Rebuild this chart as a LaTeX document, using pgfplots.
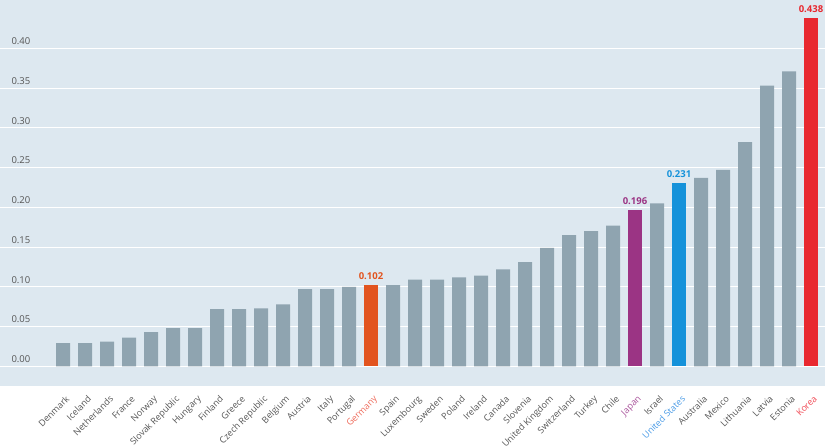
\documentclass[border=0pt]{standalone}
\usepackage{pgfplots}
\pgfplotsset{compat=1.18}
\usepackage{fontspec}
\setmainfont{Open Sans}
\definecolor{bg}{HTML}{DDE8F0}
\definecolor{bargray}{HTML}{8FA4B0}
\definecolor{ger}{HTML}{E2541F}
\definecolor{jpn}{HTML}{9B3484}
\definecolor{usa}{HTML}{1592DA}
\definecolor{kor}{HTML}{E8282F}
\definecolor{labgray}{HTML}{555555}
\definecolor{gerlab}{HTML}{EE6A5A}
\definecolor{jpnlab}{HTML}{A8529A}
\definecolor{usalab}{HTML}{4A9BE6}
\definecolor{korlab}{HTML}{F04A55}
\begin{document}
\begin{tikzpicture}
\begin{axis}[
  scale only axis, width=825bp, height=386bp,
  xmin=-2.864, xmax=34.636, ymin=-0.0248, ymax=0.4608,
  axis line style={draw=none}, tick style={draw=none},
  axis background/.style={fill=bg},
  ymajorgrids, grid style={white, line width=1bp},
  ytick={0,0.05,0.10,0.15,0.20,0.25,0.30,0.35,0.40},
  /pgf/number format/assume math mode=true,
  yticklabel style={anchor=south west, xshift=8bp, yshift=0bp, font=\fontsize{9.5bp}{11bp}\selectfont, text=labgray,
    /pgf/number format/.cd, fixed, fixed zerofill, precision=2},
  xtick={0,...,34},
  xticklabels={Denmark,Iceland,Netherlands,France,Norway,Slovak Republic,Hungary,Finland,Greece,Czech Republic,Belgium,Austria,Italy,Portugal,\textcolor{gerlab}{Germany},Spain,Luxembourg,Sweden,Poland,Ireland,Canada,Slovenia,United Kingdom,Switzerland,Turkey,Chile,\textcolor{jpnlab}{Japan},Israel,\textcolor{usalab}{United States},Australia,Mexico,Lithuania,Latvia,Estonia,\textcolor{korlab}{Korea}},
  xticklabel style={xshift=2bp, yshift=-3bp, rotate=45, anchor=north east, inner sep=1bp, font=\fontsize{9bp}{10.5bp}\selectfont, text=labgray},
  ybar, bar width=0.636, bar shift=0pt,
  every node near coord/.append style={font=\bfseries\fontsize{9.5bp}{11bp}\selectfont, yshift=2bp},
]
\addplot[fill=bargray, draw=none] coordinates {
(0,0.029) (1,0.029) (2,0.031) (3,0.036) (4,0.043) (5,0.048) (6,0.048)
(7,0.072) (8,0.072) (9,0.073) (10,0.078) (11,0.097) (12,0.097) (13,0.100)
(15,0.102) (16,0.109) (17,0.109) (18,0.112) (19,0.114) (20,0.122) (21,0.131)
(22,0.149) (23,0.165) (24,0.170) (25,0.177) (27,0.205) (29,0.237) (30,0.247)
(31,0.282) (32,0.353) (33,0.371)
};
\addplot[fill=ger, draw=none, point meta=explicit symbolic, nodes near coords, every node near coord/.append style={text=ger}] coordinates {(14,0.102)[0.102]};
\addplot[fill=jpn, draw=none, point meta=explicit symbolic, nodes near coords, every node near coord/.append style={text=jpn}] coordinates {(26,0.196)[0.196]};
\addplot[fill=usa, draw=none, point meta=explicit symbolic, nodes near coords, every node near coord/.append style={text=usa}] coordinates {(28,0.231)[0.231]};
\addplot[fill=kor, draw=none, point meta=explicit symbolic, nodes near coords, every node near coord/.append style={text=kor}] coordinates {(34,0.438)[0.438]};
\coordinate (bl) at (rel axis cs:0,0);
\coordinate (tr) at (rel axis cs:1,1);
\end{axis}
\pgfresetboundingbox
\path (tr) rectangle ([yshift=-60bp]bl);
\end{tikzpicture}
\end{document}
